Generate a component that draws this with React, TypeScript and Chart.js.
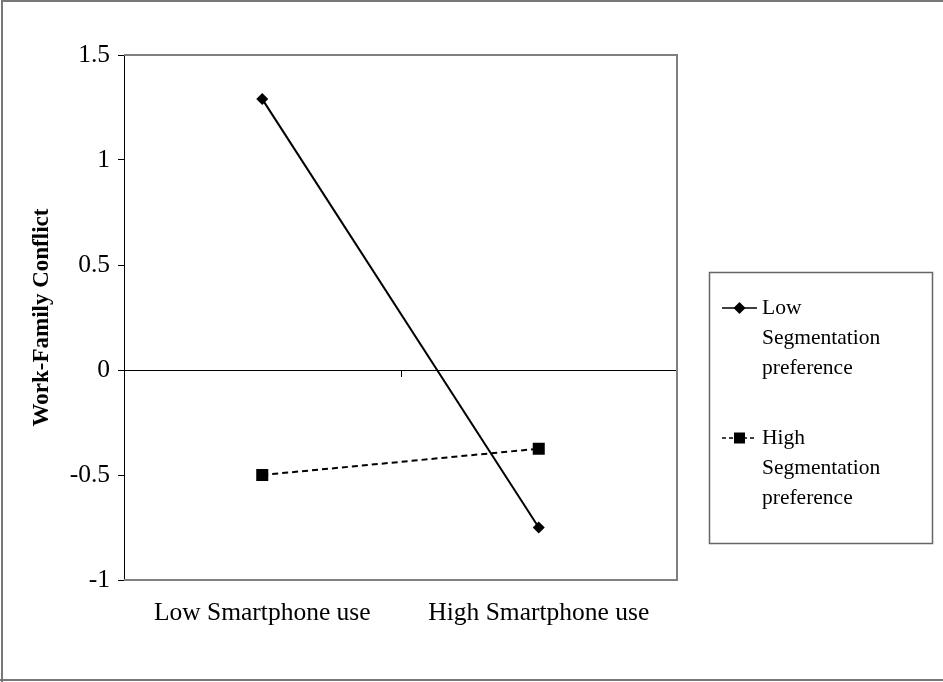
import React, { useEffect, useRef } from 'react';
import { Chart, registerables } from 'chart.js';

Chart.register(...registerables);

const categories = ['Low Smartphone use', 'High Smartphone use'];
const lowSegmentation = [1.29, -0.75];
const highSegmentation = [-0.5, -0.375];
const legendLabels = [
  ['Low', 'Segmentation', 'preference'],
  ['High', 'Segmentation', 'preference'],
];
const yTickValues = [-1, -0.5, 0, 0.5, 1, 1.5];
const yTitle = 'Work-Family Conflict';

const FONT = '"Liberation Serif", "Times New Roman", serif';

const decorPlugin = {
  id: 'decor',
  beforeDraw(chart: any) {
    const ctx = chart.ctx;
    ctx.save();
    ctx.fillStyle = '#ffffff';
    ctx.fillRect(0, 0, chart.width, chart.height);
    ctx.restore();
  },
  afterDraw(chart: any) {
    const ctx = chart.ctx;
    const { left, right, top, bottom } = chart.chartArea;
    const xs = chart.scales.x;
    const ys = chart.scales.y;
    ctx.save();
    // outer frame
    ctx.strokeStyle = '#777777';
    ctx.lineWidth = 2;
    ctx.beginPath();
    ctx.moveTo(2, chart.height + 5);
    ctx.lineTo(2, 1);
    ctx.lineTo(chart.width + 5, 1);
    ctx.stroke();
    ctx.beginPath();
    ctx.moveTo(0, 680);
    ctx.lineTo(chart.width + 5, 680);
    ctx.stroke();

    // plot area border (top, right, bottom)
    ctx.strokeStyle = '#808080';
    ctx.lineWidth = 2;
    ctx.beginPath();
    ctx.moveTo(left, top);
    ctx.lineTo(right, top);
    ctx.lineTo(right, bottom);
    ctx.lineTo(left, bottom);
    ctx.stroke();

    // category divider tick on zero axis
    const mid = (xs.getPixelForValue(0) + xs.getPixelForValue(1)) / 2;
    const zy = ys.getPixelForValue(0);
    ctx.strokeStyle = '#000';
    ctx.lineWidth = 1;
    ctx.beginPath();
    ctx.moveTo(Math.round(mid) + 0.5, zy);
    ctx.lineTo(Math.round(mid) + 0.5, zy + 7);
    ctx.stroke();

    // legend
    const lx = 709.5, ly = 272.5, lw = 223, lh = 271;
    ctx.strokeStyle = '#666666';
    ctx.lineWidth = 1.5;
    ctx.strokeRect(lx, ly, lw, lh);

    const entries = [
      { y: 308, dash: [] as number[], shape: 'diamond', labels: legendLabels[0] },
      { y: 438, dash: [4, 3], shape: 'square', labels: legendLabels[1] },
    ];
    entries.forEach((e) => {
      ctx.strokeStyle = '#000';
      ctx.lineWidth = 1.5;
      ctx.setLineDash(e.dash);
      ctx.beginPath();
      ctx.moveTo(722, e.y);
      ctx.lineTo(757, e.y);
      ctx.stroke();
      ctx.setLineDash([]);
      ctx.fillStyle = '#000';
      const cx = 739.5;
      if (e.shape === 'diamond') {
        ctx.beginPath();
        ctx.moveTo(cx, e.y - 6);
        ctx.lineTo(cx + 6, e.y);
        ctx.lineTo(cx, e.y + 6);
        ctx.lineTo(cx - 6, e.y);
        ctx.closePath();
        ctx.fill();
      } else {
        ctx.fillRect(cx - 5.5, e.y - 5.5, 11, 11);
      }
      ctx.font = `21.5px ${FONT}`;
      ctx.textBaseline = 'middle';
      ctx.textAlign = 'left';
      e.labels.forEach((t, i) => {
        ctx.fillText(t, 762, e.y + i * 30);
      });
    });
    ctx.restore();
  },
};

export default function App() {
  const canvasRef = useRef<HTMLCanvasElement | null>(null);

  useEffect(() => {
    const canvas = canvasRef.current;
    if (!canvas) return;
    const chart = new Chart(canvas, {
      type: 'line',
      data: {
        labels: categories,
        datasets: [
          {
            label: legendLabels[0].join(' '),
            data: lowSegmentation,
            borderColor: '#000',
            backgroundColor: '#000',
            borderWidth: 2,
            pointStyle: 'rectRot',
            pointRadius: 6,
            pointBorderWidth: 0,
            pointBackgroundColor: '#000',
            tension: 0,
          },
          {
            label: legendLabels[1].join(' '),
            data: highSegmentation,
            borderColor: '#000',
            backgroundColor: '#000',
            borderWidth: 2,
            borderDash: [6, 4],
            pointStyle: 'rect',
            pointRadius: 8.5,
            pointBorderWidth: 0,
            pointBackgroundColor: '#000',
            tension: 0,
          },
        ],
      },
      options: {
        animation: false,
        responsive: false,
        maintainAspectRatio: false,
        layout: { padding: { left: 0, top: 55, right: 266, bottom: 0 } },
        plugins: {
          legend: { display: false },
          tooltip: { enabled: false },
          title: { display: false },
        },
        scales: {
          x: {
            type: 'category',
            offset: true,
            border: { display: false },
            grid: { display: false, drawTicks: false },
            ticks: {
              color: '#000',
              font: { family: FONT, size: 25.5 },
              padding: 18,
              maxRotation: 0,
              autoSkip: false,
            },
            afterFit: (s: any) => {
              s.height = 102;
            },
          },
          y: {
            min: -1,
            max: 1.5,
            afterBuildTicks: (s: any) => {
              s.ticks = yTickValues.map((v) => ({ value: v }));
            },
            ticks: {
              color: '#000',
              font: { family: FONT, size: 25.5 },
              padding: 8,
              callback: (v: any) => String(v),
            },
            border: { display: true, color: '#000', width: 1 },
            grid: {
              drawOnChartArea: true,
              color: (c: any) => (c.tick && c.tick.value === 0 ? '#000' : 'rgba(0,0,0,0)'),
              tickColor: '#000',
              tickLength: 6,
              lineWidth: 1,
            },
            title: {
              display: true,
              text: yTitle,
              color: '#000',
              font: { family: FONT, size: 23, weight: 'bold' },
              padding: { top: 28, bottom: 0 },
            },
            afterFit: (s: any) => {
              s.width = 124;
            },
          },
        },
      },
      plugins: [decorPlugin],
    });
    return () => chart.destroy();
  }, []);

  return (
    <div style={{ position: 'fixed', left: 0, top: 0, width: 943, height: 682, background: '#fff' }}>
      <canvas ref={canvasRef} width={943} height={682} style={{ display: 'block' }} />
    </div>
  );
}
